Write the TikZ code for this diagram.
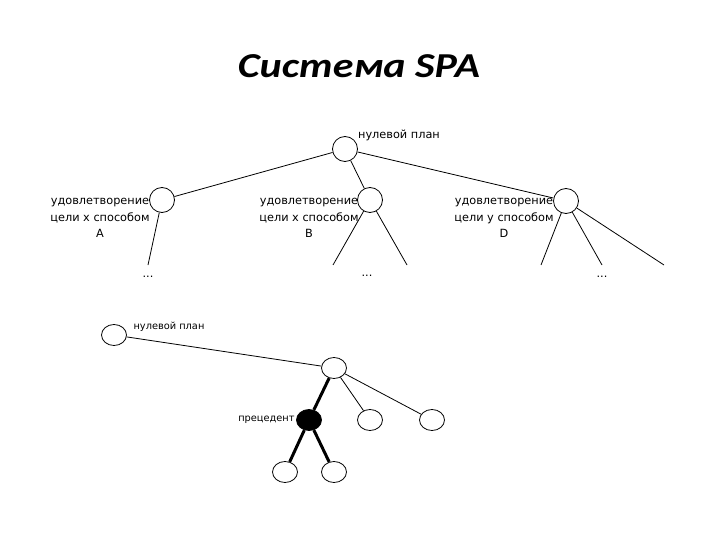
\documentclass[tikz,border=0pt]{standalone}
\usepackage{fontspec}
\setmainfont{DejaVu Sans}
\newfontfamily\titlefont[FakeStretch=1.2]{Carlito}
\usetikzlibrary{shapes,positioning}

\begin{document}
\begin{tikzpicture}[x=1pt, y=-1pt, line width=0.8pt,
    plan/.style={ellipse, draw, minimum width=25pt, minimum height=25pt, inner sep=0pt},
    leaf/.style={ellipse, draw, minimum width=25pt, minimum height=21pt, inner sep=0pt},
    lbl/.style={font=\fontsize{11.3}{16.5}\selectfont, align=center, inner sep=0pt},
    smalllbl/.style={font=\fontsize{9.8}{12}\selectfont, inner sep=0pt},
    bold line/.style={line width=3pt}]
    \useasboundingbox (0,0) rectangle (720,540);

    \node[font=\titlefont\fontsize{35}{40}\selectfont\bfseries\itshape] (title) at (359,66) {Система SPA};

    % upper tree
    \node[plan] (root) at (345,149) {};
    \node[lbl] (rootlbl) at (399,135) {нулевой план};
    \node[plan] (wayA) at (162,200) {};
    \node[plan] (wayB) at (370,200) {};
    \node[plan] (wayD) at (566,201) {};
    \node[lbl] (lblA) at (100,218) {удовлетворение\\цели x способом\\A};
    \node[lbl] (lblB) at (309,218) {удовлетворение\\цели x способом\\B};
    \node[lbl] (lblD) at (504,218) {удовлетворение\\цели y способом\\D};

    \coordinate (endA) at (148,265);
    \coordinate (endB1) at (333,265);
    \coordinate (endB2) at (407,265);
    \coordinate (endD1) at (541,265);
    \coordinate (endD2) at (602,265);
    \coordinate (endD3) at (664,265);
    \node[lbl] (dotsA) at (148,277) {...};
    \node[lbl] (dotsB) at (367,276) {...};
    \node[lbl] (dotsD) at (602,277) {...};

    \draw (root) -- (wayA);
    \draw (root) -- (wayB);
    \draw (root) -- (wayD);
    \draw (wayA) -- (endA);
    \draw (wayB) -- (endB1);
    \draw (wayB) -- (endB2);
    \draw (wayD) -- (endD1);
    \draw (wayD) -- (endD2);
    \draw (wayD) -- (endD3);

    % lower tree
    \node[leaf] (zero) at (114,335) {};
    \node[smalllbl] (zerolbl) at (169,327) {нулевой план};
    \node[leaf] (mid) at (334,368) {};
    \node[leaf, fill=black] (prec) at (309,420) {};
    \node[smalllbl, anchor=east] (preclbl) at (295,420) {прецедент};
    \node[leaf] (sideA) at (370,420) {};
    \node[leaf] (sideB) at (432,420) {};
    \node[leaf] (lowA) at (285,472) {};
    \node[leaf] (lowB) at (334,472) {};

    \draw (zero) -- (mid);
    \draw (mid) -- (sideA);
    \draw (mid) -- (sideB);
    \draw[bold line] (mid) -- (prec);
    \draw[bold line] (prec) -- (lowA);
    \draw[bold line] (prec) -- (lowB);
\end{tikzpicture}
\end{document}
